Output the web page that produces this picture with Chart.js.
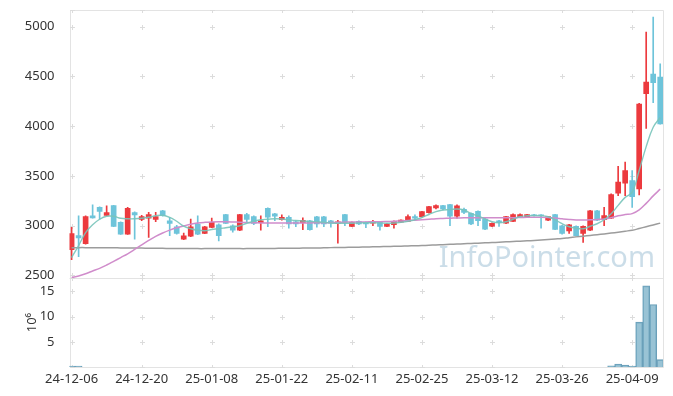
<!DOCTYPE html>
<html><head><meta charset="utf-8">
<script src="https://cdn.jsdelivr.net/npm/chart.js@4/dist/chart.umd.min.js"></script>
<style>html,body{margin:0;padding:0;background:#fff}#wrap{width:673px;height:396px;position:relative}</style>
</head><body><div id="wrap"><canvas id="c" width="673" height="396" style="width:673px;height:396px"></canvas></div>
<script>
const dates = ["24-12-06","24-12-09","24-12-10","24-12-11","24-12-12","24-12-13","24-12-16","24-12-17","24-12-18","24-12-19",
"24-12-20","24-12-23","24-12-24","24-12-26","24-12-27","24-12-30","25-01-02","25-01-03","25-01-06","25-01-07",
"25-01-08","25-01-09","25-01-10","25-01-13","25-01-14","25-01-15","25-01-16","25-01-17","25-01-20","25-01-21",
"25-01-22","25-01-23","25-01-24","25-01-31","25-02-03","25-02-04","25-02-05","25-02-06","25-02-07","25-02-10",
"25-02-11","25-02-12","25-02-13","25-02-14","25-02-17","25-02-18","25-02-19","25-02-20","25-02-21","25-02-24",
"25-02-25","25-02-26","25-02-27","25-02-28","25-03-04","25-03-05","25-03-06","25-03-07","25-03-10","25-03-11",
"25-03-12","25-03-13","25-03-14","25-03-17","25-03-18","25-03-19","25-03-20","25-03-21","25-03-24","25-03-25",
"25-03-26","25-03-27","25-03-28","25-03-31","25-04-01","25-04-02","25-04-03","25-04-04","25-04-07","25-04-08",
"25-04-09","25-04-10","25-04-11","25-04-14","25-04-15"];

const openP = [2760,2900,2821,3100,3185,3104,3202,3034,2916,3131,
3064,3077,3064,3151,3050,2990,2865,2896,3017,2923,
2983,3010,3111,3000,2956,3111,3091,3030,3175,3120,
3060,3085,3040,3030,3050,3090,3090,3050,3024,3111,
2993,3044,3034,3027,3034,2993,3010,3037,3044,3091,
3091,3131,3178,3202,3212,3097,3165,3124,3145,3067,
2996,3050,3027,3044,3084,3091,3110,3108,3057,3111,
3000,2949,2993,2922,2956,3151,3061,3077,3326,3427,
3454,3370,4326,4525,4495];
const highP = [2985,3100,3100,3210,3190,3200,3205,3040,3185,3140,
3105,3135,3135,3155,3085,3005,2925,3067,3100,2995,
3077,3020,3115,3010,3115,3125,3100,3100,3180,3125,
3110,3100,3050,3080,3055,3095,3095,3055,3055,3115,
3040,3050,3040,3055,3040,3025,3050,3060,3110,3110,
3145,3195,3210,3205,3215,3210,3178,3130,3150,3075,
3030,3055,3095,3120,3120,3115,3115,3112,3095,3115,
3005,3015,3000,3000,3155,3155,3185,3320,3596,3640,
3555,4230,4946,5098,4626];
const lowP = [2660,2690,2815,3075,3065,3100,2990,2912,2912,2865,
3050,2882,3040,3095,2900,2915,2860,2890,2910,2920,
2980,2848,3020,2935,2950,3040,3010,2955,2990,3050,
3055,2975,2990,2960,2955,2985,2990,2985,2825,3000,
2990,3010,2980,3000,2956,2990,2975,3030,3040,3060,
3085,3125,3170,3160,3000,3075,3120,3010,3000,2960,
2990,2993,3020,3040,3080,3085,3095,2975,3050,2960,
2915,2922,2895,2832,2950,3050,3000,3070,3303,3303,
3185,3310,3977,4237,4020];
const closeP = [2920,2878,3091,3078,3145,3131,2993,2916,3175,3108,
3091,3111,3091,3101,3024,2923,2899,2990,2916,2990,
3034,2899,3024,2956,3111,3064,3024,3050,3085,3095,
3085,3017,3017,3054,2960,3017,3017,3027,3040,3034,
3034,3017,3017,3044,2993,3017,3044,3057,3091,3077,
3141,3192,3202,3168,3097,3199,3135,3017,3050,2966,
3024,3034,3091,3111,3111,3111,3100,3100,3091,2963,
2922,3010,2899,2993,3151,3057,3101,3313,3438,3555,
3293,4222,4444,4437,4024];
// volume, in millions of shares (bars 2-76 too small to see)
const volume = [0.2,0.2,0,0,0,0,0,0,0,0,
0,0,0,0,0,0,0,0,0,0,
0,0,0,0,0,0,0,0,0,0,
0,0,0,0,0,0,0,0,0,0,
0,0,0,0,0,0,0,0,0,0,
0,0,0,0,0,0,0,0,0,0,
0,0,0,0,0,0,0,0,0,0,
0,0,0,0,0,0,0,0.25,0.6,0.4,
0.2,8.9,16.1,12.4,1.45];
const ma5 = [2680,2800,2930,3010,3065,3095,3095,3075,3070,3070,
3075,3085,3100,3105,3085,3045,2995,2970,2955,2950,
2962,2970,2980,2990,3000,3025,3045,3060,3065,3070,
3068,3060,3052,3048,3042,3040,3035,3028,3025,3025,
3025,3028,3030,3030,3028,3025,3028,3035,3045,3060,
3083,3113,3142,3158,3162,3168,3158,3122,3098,3068,
3040,3030,3040,3065,3090,3100,3103,3100,3090,3060,
3020,2990,2975,2970,2995,3020,3060,3120,3205,3285,
3338,3555,3795,3990,4088];
const ma20 = [2478,2495,2518,2545,2572,2605,2642,2680,2718,2762,
2808,2852,2893,2927,2956,2980,2998,3015,3027,3034,
3038,3040,3040,3038,3035,3032,3030,3028,3028,3028,
3028,3028,3028,3028,3028,3030,3030,3032,3034,3036,
3038,3038,3038,3040,3040,3042,3045,3048,3052,3056,
3060,3065,3070,3073,3076,3078,3080,3080,3080,3080,
3080,3080,3080,3080,3082,3085,3085,3085,3083,3078,
3070,3063,3058,3057,3060,3063,3068,3080,3100,3112,
3122,3160,3225,3300,3368];
const ma60 = [2780,2780,2780,2779,2779,2778,2778,2777,2776,2776,
2775,2774,2774,2773,2772,2772,2771,2771,2770,2770,
2770,2770,2770,2770,2770,2770,2771,2771,2772,2772,
2773,2773,2774,2775,2776,2777,2778,2780,2781,2782,
2784,2785,2787,2788,2790,2792,2793,2795,2797,2799,
2801,2804,2807,2810,2813,2816,2819,2822,2825,2828,
2831,2834,2838,2841,2845,2848,2852,2857,2862,2867,
2872,2880,2888,2895,2902,2910,2918,2926,2935,2945,
2955,2972,2990,3008,3026];
const xTickIdx = [0,10,20,30,40,50,60,70,80];
const priceTicks = [2500,3000,3500,4000,4500,5000];
const volTicks = [5,10,15];

const UP = '#ec3a3e', DOWN = '#6ec4da';
const idx = dates.map((d,i)=>i);
const candleColor = ctx => closeP[ctx.dataIndex] >= openP[ctx.dataIndex] ? UP : DOWN;

const decor = {
  id:'decor',
  beforeDatasetsDraw(chart){
    const {ctx, chartArea:a, scales} = chart;
    const x = scales.x, y = scales.y, yv = scales.yv;
    const sep = y.bottom; // boundary between the two panels
    ctx.save();
    // watermark
    ctx.font = '29px "Noto Sans"';
    ctx.fillStyle = 'rgba(185,210,224,0.75)';
    ctx.textBaseline = 'alphabetic';
    ctx.textAlign = 'right';
    ctx.fillText('InfoPointer.com', a.right - 8, y.bottom - 11);
    // frame
    ctx.strokeStyle = '#e3e3e3';
    ctx.lineWidth = 1;
    ctx.beginPath();
    ctx.rect(Math.round(a.left)+0.5, Math.round(a.top)+0.5, Math.round(a.right-a.left)-1, Math.round(a.bottom-a.top));
    ctx.moveTo(a.left, Math.round(sep)+0.5); ctx.lineTo(a.right, Math.round(sep)+0.5);
    ctx.stroke();
    // cross grid marks
    ctx.strokeStyle = '#dcdcdc';
    const ys = priceTicks.map(v=>y.getPixelForValue(v)).concat(volTicks.map(v=>yv.getPixelForValue(v)), [a.top, sep, a.bottom]);
    ctx.beginPath();
    xTickIdx.forEach(v=>{
      const px = Math.round(x.getPixelForValue(v))+0.5;
      ys.forEach(py0=>{
        const py = Math.round(py0)+0.5;
        ctx.moveTo(px-2.5, py); ctx.lineTo(px+2.5, py);
        ctx.moveTo(px, Math.max(a.top, py-2.5)); ctx.lineTo(px, Math.min(a.bottom, py+2.5));
      });
    });
    ctx.stroke();
    ctx.restore();
  }
};
const noPad = ax => { ax.paddingTop = 0; ax.paddingBottom = 0; ax.paddingLeft = 0; ax.paddingRight = 0; };

const tickFont = {family:'"Noto Sans"', size:13};
new Chart(document.getElementById('c'), {
  type:'bar',
  data:{
    datasets:[
      {type:'line', label:'MA5', yAxisID:'y', data: idx.map(i=>({x:i,y:ma5[i]})), borderColor:'rgba(120,196,186,0.9)', borderWidth:1.4, pointRadius:0, tension:0.4, order:0},
      {type:'line', label:'MA20', yAxisID:'y', data: idx.map(i=>({x:i,y:ma20[i]})), borderColor:'#d08ccb', borderWidth:1.5, pointRadius:0, tension:0.4, order:0},
      {type:'line', label:'MA60', yAxisID:'y', data: idx.map(i=>({x:i,y:ma60[i]})), borderColor:'#9c9c9c', borderWidth:1.5, pointRadius:0, tension:0.4, order:0},
      {label:'wick', yAxisID:'y', data: idx.map(i=>({x:i,y:[lowP[i],highP[i]]})), backgroundColor:candleColor, barThickness:1, grouped:false, order:2},
      {label:'body', yAxisID:'y', data: idx.map(i=>({x:i,y:[openP[i],closeP[i]]})), backgroundColor:candleColor, barThickness:5, minBarLength:1, grouped:false, order:1},
      {label:'volume', yAxisID:'yv', data: idx.map(i=>({x:i,y:volume[i]})), backgroundColor:'rgba(128,180,203,0.8)', borderColor:'#6b9fb9', borderWidth:1, barThickness:7, grouped:false, order:3}
    ]
  },
  options:{
    responsive:false, animation:false, maintainAspectRatio:false,
    devicePixelRatio:1,
    layout:{padding:{top:10,right:10,left:0,bottom:0}},
    plugins:{legend:{display:false}, tooltip:{enabled:false}},
    scales:{
      x:{type:'linear', min:-0.3, max:84.4, offset:false, bounds:'data',
        grid:{display:false, offset:false}, border:{display:false},
        afterBuildTicks: ax => { ax.ticks = xTickIdx.map(v=>({value:v})); },
        afterFit: ax => { ax.height = 29; noPad(ax); },
        ticks:{callback: v => dates[v], font:tickFont, color:'#333', padding:-4, maxRotation:0, autoSkip:false}},
      yv:{type:'linear', position:'left', stack:'s', stackWeight:89, min:0, max:17.65,
        grid:{display:false}, border:{display:false},
        afterBuildTicks: ax => { ax.ticks = volTicks.map(v=>({value:v})); },
        afterFit: ax => { ax.width = 69.5; noPad(ax); },
        title:{display:true, text:'10\u2076', font:{family:'"Noto Sans"', size:13}, color:'#333', padding:{top:24.5,bottom:0}},
        ticks:{font:tickFont, color:'#333', padding:7, autoSkip:false, callback: v => String(v)}},
      y:{type:'linear', position:'left', stack:'s', stackWeight:268.3, min:2474, max:5168,
        grid:{display:false}, border:{display:false},
        afterBuildTicks: ax => { ax.ticks = priceTicks.map(v=>({value:v})); },
        afterFit: ax => { ax.width = 69.5; noPad(ax); },
        ticks:{font:tickFont, color:'#333', padding:7, autoSkip:false, callback: v => String(v)}}
    }
  },
  plugins:[decor]
});
</script></body></html>
